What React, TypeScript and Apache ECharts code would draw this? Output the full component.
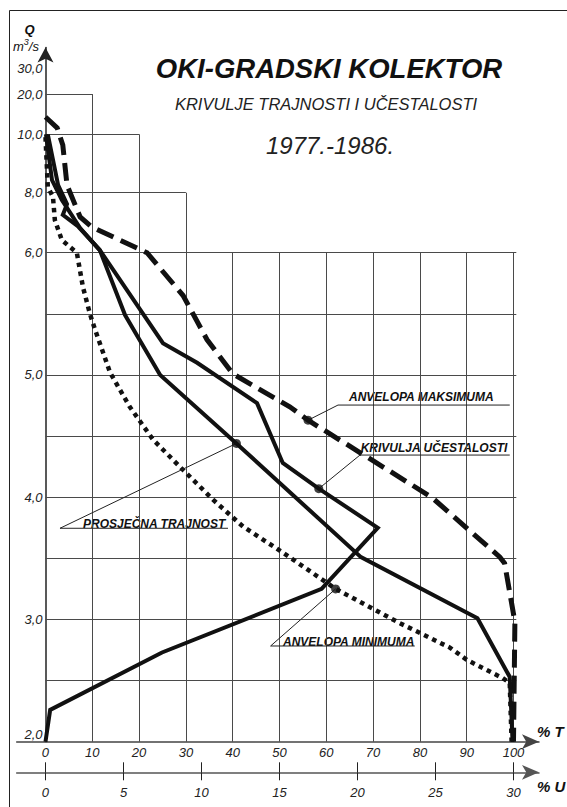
import React, { useEffect, useRef } from "react";
import * as echarts from "echarts";

const FONT = '"Liberation Sans", Arial, Helvetica, sans-serif';

// Non-linear Q scale: linear 2..6, compressed above
const Q_KNOTS = [2, 6, 8, 10, 20, 30];
const POS_KNOTS = [2, 6, 6.491, 6.969, 7.298, 7.508];

const Y_TICKS = [2, 3, 4, 5, 6, 8, 10, 20, 30];
const Y_TICK_LABELS = ["2,0", "3,0", "4,0", "5,0", "6,0", "8,0", "10,0", "20,0", "30,0"];
const T_TICKS = [0, 10, 20, 30, 40, 50, 60, 70, 80, 90, 100];
const U_TICKS = [0, 5, 10, 15, 20, 25, 30];

// grid
const H_GRID_Q = [2.5, 3, 3.5, 4, 4.5, 5, 5.5, 6];
const H_GRID_END_T = 100.6;
const STEP_Q = [8, 10, 20];
const STEP_T = [30, 20, 10];
const V_GRID_T = [10, 20, 30, 40, 50, 60, 70, 80, 90, 100];
const V_GRID_TOP_Q = [20, 10, 8, 6, 6, 6, 6, 6, 6, 6];

// Anvelopa maksimuma (dashed)
const MAX_T = [0, 2.5, 3.7, 4.6, 7.4, 9.9, 21.7, 29.4, 34.5, 40.0, 52.2, 56.1, 82.5, 97.1, 98.1, 100.3, 100];
const MAX_Q = [14.3, 11.6, 9.63, 8.26, 7.19, 6.86, 6.0, 5.65, 5.29, 5.01, 4.74, 4.63, 4.0, 3.51, 3.46, 2.98, 2.0];

// Prosječna trajnost (solid)
const AVG_T = [0.1, 1.4, 3.5, 7.4, 11.6, 17.0, 24.5, 40.8, 67.4, 92.3, 99.2, 99.8];
const AVG_Q = [10.0, 8.43, 7.76, 6.82, 6.09, 5.49, 5.0, 4.44, 3.51, 3.01, 2.53, 2.0];

// Krivulja učestalosti (solid, % U)
const FREQ_U = [0.15, 0.81, 1.38, 1.11, 2.07, 3.48, 7.53, 9.72, 13.56, 15.21, 17.52, 21.3, 17.7, 7.47, 0.3, 0];
const FREQ_Q = [10.0, 8.26, 7.62, 7.26, 6.89, 6.09, 5.26, 5.10, 4.77, 4.28, 4.07, 3.75, 3.25, 2.73, 2.26, 2.0];

// Anvelopa minimuma (dotted)
const MIN_T = [0, 0.5, 1.6, 2.0, 3.5, 6.7, 8.0, 9.5, 10.6, 13.8, 18.0, 23.0, 28.7, 35.8, 42.2, 49.4, 52.9, 62.0, 75.7, 86.4, 90.0, 97.7, 99.2, 99.6];
const MIN_Q = [9.9, 8.2, 7.86, 7.09, 6.42, 6.0, 5.72, 5.5, 5.37, 5.02, 4.74, 4.47, 4.25, 3.98, 3.76, 3.58, 3.49, 3.25, 2.97, 2.77, 2.67, 2.52, 2.48, 2.0];

// annotations
const ANN_TEXT = ["ANVELOPA MAKSIMUMA", "KRIVULJA UČESTALOSTI", "PROSJEČNA TRAJNOST", "ANVELOPA MINIMUMA"];
const ANN_DOT_T = [56.1, 58.4, 40.8, 62.0];
const ANN_DOT_Q = [4.63, 4.07, 4.44, 3.25];
const ANN_ELBOW_T = [62.5, 67.2, 3.1, 48.1];
const ANN_LINE_Q = [4.754, 4.345, 3.746, 2.783];
const ANN_END_T = [99.2, 99.2, 39.0, 78.9];
const ANN_TEXT_POS = [[349, 396.7], [360.7, 447.7], [83, 524], [283, 641.7]];

const T_MIN = -6.15;
const T_MAX = 105.45;
const U_FACTOR = 0.3;
const GRID_LEFT = 16.7;
const GRID_RIGHT = 28;
const GRID_TOP = 47.5;
const GRID_BOTTOM = 65.3;

function toPos(q: number): number {
  for (let i = 0; i < Q_KNOTS.length - 1; i++) {
    if (q <= Q_KNOTS[i + 1] || i === Q_KNOTS.length - 2) {
      const f = (q - Q_KNOTS[i]) / (Q_KNOTS[i + 1] - Q_KNOTS[i]);
      return POS_KNOTS[i] + f * (POS_KNOTS[i + 1] - POS_KNOTS[i]);
    }
  }
  return q;
}

const pairs = (xs: number[], qs: number[]) => xs.map((x, i) => [x, toPos(qs[i])]);

export default function App() {
  const ref = useRef<HTMLDivElement>(null);

  useEffect(() => {
    if (!ref.current) return;
    const chart = echarts.init(ref.current, null, { renderer: "svg" });

    const gridLines: any[] = [];
    H_GRID_Q.forEach((q) => gridLines.push({ coords: [[0, toPos(q)], [H_GRID_END_T, toPos(q)]] }));
    STEP_Q.forEach((q, i) => gridLines.push({ coords: [[0, toPos(q)], [STEP_T[i], toPos(q)]] }));
    V_GRID_T.forEach((t, i) => gridLines.push({ coords: [[t, toPos(2)], [t, toPos(V_GRID_TOP_Q[i])]] }));

    const leaders = ANN_TEXT.map((_, i) => ({
      coords: [
        [ANN_DOT_T[i], toPos(ANN_DOT_Q[i])],
        [ANN_ELBOW_T[i], toPos(ANN_LINE_Q[i])],
        [ANN_END_T[i], toPos(ANN_LINE_Q[i])],
      ],
    }));

    const labelFont = { fontFamily: FONT, fontStyle: "italic" as const, fontSize: 13, color: "#222" };

    const yTickPos = Y_TICKS.map(toPos);
    // horizontal pixel position of T = 0 relative to the grid's left edge
    const plotWidth = 567 - GRID_LEFT - GRID_RIGHT;
    const zeroOffset = ((0 - T_MIN) / (T_MAX - T_MIN)) * plotWidth;

    const option: any = {
      animation: false,
      backgroundColor: "#fff",
      grid: {
        left: GRID_LEFT,
        right: GRID_RIGHT,
        top: GRID_TOP,
        bottom: GRID_BOTTOM,
        containLabel: false,
        outerBoundsMode: "none",
      },
      xAxis: [
        {
          type: "value",
          min: T_MIN,
          max: T_MAX,
          position: "bottom",
          axisLine: { show: true, onZero: false, symbol: ["none", "arrow"], symbolSize: [11, 17], lineStyle: { color: "#444", width: 1.5 } },
          axisTick: { show: false },
          splitLine: { show: false },
          axisLabel: { customValues: T_TICKS, margin: 4, ...labelFont },
        },
        {
          type: "value",
          min: T_MIN * U_FACTOR,
          max: T_MAX * U_FACTOR,
          position: "bottom",
          offset: 30.6,
          axisLine: { show: true, onZero: false, symbol: ["none", "arrow"], symbolSize: [11, 17], lineStyle: { color: "#555", width: 1.5 } },
          axisTick: { show: true, customValues: U_TICKS, length: 8, inside: false, lineStyle: { color: "#222", width: 1 } },
          splitLine: { show: false },
          axisLabel: { customValues: U_TICKS, margin: 14, ...labelFont },
        },
        {
          type: "value",
          min: T_MIN * U_FACTOR,
          max: T_MAX * U_FACTOR,
          position: "bottom",
          offset: 30.6,
          axisLine: { show: false, onZero: false },
          axisTick: { show: true, customValues: U_TICKS, length: 10, inside: true, lineStyle: { color: "#222", width: 1 } },
          splitLine: { show: false },
          axisLabel: { show: false },
        },
      ],
      yAxis: {
        type: "value",
        min: 2,
        max: 7.679,
        position: "left",
        offset: -zeroOffset,
        axisLine: { show: true, onZero: false, symbol: ["none", "arrow"], symbolSize: [12, 15], lineStyle: { color: "#222", width: 1.5 } },
        axisTick: { show: false },
        splitLine: { show: false },
        axisLabel: {
          customValues: yTickPos,
          margin: 3,
          ...labelFont,
          formatter: (v: number) => {
            let idx = 0;
            let best = Infinity;
            yTickPos.forEach((p, i) => {
              const d = Math.abs(p - v);
              if (d < best) {
                best = d;
                idx = i;
              }
            });
            const s = Y_TICK_LABELS[idx];
            return idx === 0 ? "{lift|" + s + "}" : s;
          },
          rich: {
            lift: { ...labelFont, padding: [0, 0, 14, 0] },
          },
        },
      },
      series: [
        {
          type: "lines",
          coordinateSystem: "cartesian2d",
          silent: true,
          z: 1,
          lineStyle: { color: "#4a4a4a", width: 1, opacity: 1 },
          data: gridLines,
        },
        {
          name: "ANVELOPA MAKSIMUMA",
          type: "line",
          data: pairs(MAX_T, MAX_Q),
          symbol: "none",
          z: 3,
          lineStyle: { color: "#111", width: 5, type: [18, 8], cap: "butt", join: "miter" },
        },
        {
          name: "PROSJEČNA TRAJNOST",
          type: "line",
          data: pairs(AVG_T, AVG_Q),
          symbol: "none",
          z: 3,
          lineStyle: { color: "#111", width: 4, cap: "butt", join: "miter" },
        },
        {
          name: "KRIVULJA UČESTALOSTI",
          type: "line",
          xAxisIndex: 1,
          data: pairs(FREQ_U, FREQ_Q),
          symbol: "none",
          z: 3,
          lineStyle: { color: "#111", width: 4, cap: "butt", join: "miter" },
        },
        {
          name: "ANVELOPA MINIMUMA",
          type: "line",
          data: pairs(MIN_T, MIN_Q),
          symbol: "none",
          z: 3,
          lineStyle: { color: "#111", width: 4.5, type: [4.5, 4.5], cap: "butt", join: "miter" },
        },
        {
          type: "lines",
          coordinateSystem: "cartesian2d",
          polyline: true,
          silent: true,
          z: 4,
          lineStyle: { color: "#222", width: 1, opacity: 1 },
          data: leaders,
        },
        {
          type: "scatter",
          symbol: "circle",
          symbolSize: 9,
          z: 5,
          itemStyle: { color: "#111" },
          data: ANN_DOT_T.map((t, i) => [t, toPos(ANN_DOT_Q[i])]),
        },
      ],
      graphic: [
        {
          type: "line",
          shape: { x1: 9.5, y1: 10.5, x2: 567, y2: 10.5 },
          style: { stroke: "#222", lineWidth: 1 },
          silent: true,
        },
        {
          type: "line",
          shape: { x1: 9.5, y1: 10.5, x2: 9.5, y2: 807 },
          style: { stroke: "#222", lineWidth: 1 },
          silent: true,
        },
        {
          type: "text",
          x: 329,
          y: 68,
          style: { text: "OKI-GRADSKI KOLEKTOR", fontFamily: FONT, fontSize: 27.5, fontWeight: "bold", fontStyle: "italic", fill: "#111", textAlign: "center", textVerticalAlign: "middle" },
        },
        {
          type: "text",
          x: 326,
          y: 104,
          style: { text: "KRIVULJE TRAJNOSTI I UČESTALOSTI", fontFamily: FONT, fontSize: 16.5, fontStyle: "italic", fill: "#222", textAlign: "center", textVerticalAlign: "middle" },
        },
        {
          type: "text",
          x: 330,
          y: 145,
          style: { text: "1977.-1986.", fontFamily: FONT, fontSize: 24, fontStyle: "italic", fill: "#222", textAlign: "center", textVerticalAlign: "middle" },
        },
        {
          type: "text",
          x: 29.5,
          y: 29,
          style: { text: "Q", fontFamily: FONT, fontSize: 13, fontWeight: "bold", fontStyle: "italic", fill: "#111", textAlign: "center", textVerticalAlign: "middle" },
        },
        {
          type: "text",
          x: 13,
          y: 46,
          style: {
            text: "m{sup|3}/s",
            fontFamily: FONT,
            fontSize: 13,
            fontStyle: "italic",
            fill: "#111",
            textAlign: "left",
            textVerticalAlign: "middle",
            rich: {
              sup: { fontFamily: FONT, fontSize: 9, fontStyle: "italic", fill: "#111", padding: [0, 0, 9, 0] },
            },
          },
        },
        {
          type: "text",
          x: 537,
          y: 731,
          style: { text: "% T", fontFamily: FONT, fontSize: 15, fontWeight: "bold", fontStyle: "italic", fill: "#111", textAlign: "left", textVerticalAlign: "middle" },
        },
        {
          type: "text",
          x: 537,
          y: 786,
          style: { text: "% U", fontFamily: FONT, fontSize: 15, fontWeight: "bold", fontStyle: "italic", fill: "#111", textAlign: "left", textVerticalAlign: "middle" },
        },
        ...ANN_TEXT.map((t, i) => ({
          type: "text",
          x: ANN_TEXT_POS[i][0],
          y: ANN_TEXT_POS[i][1],
          style: { text: t, fontFamily: FONT, fontSize: 12, fontWeight: "bold", fontStyle: "italic", fill: "#111", textAlign: "left", textVerticalAlign: "middle" },
        })),
      ],
    };

    chart.setOption(option);
    return () => chart.dispose();
  }, []);

  return <div ref={ref} style={{ width: 567, height: 807, position: "absolute", left: 0, top: 0, background: "#fff" }} />;
}
